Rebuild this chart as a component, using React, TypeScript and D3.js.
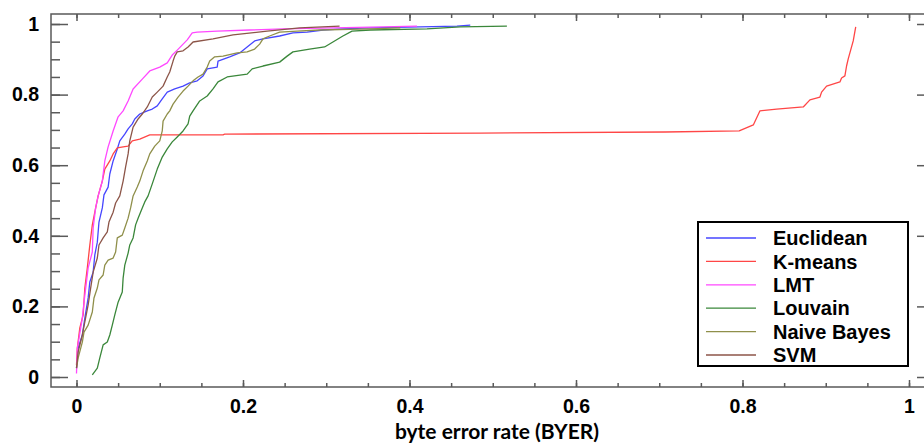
import React, { useEffect, useRef } from "react";
import * as d3 from "d3";

// CDF curves: [byte error rate, cumulative fraction]
const euclidean: [number, number][] = [
  [0, 0.025], [0.002, 0.082], [0.007, 0.119], [0.01, 0.167], [0.014, 0.224],
  [0.016, 0.269], [0.02, 0.297], [0.022, 0.346], [0.025, 0.382], [0.027, 0.439],
  [0.031, 0.479], [0.033, 0.516], [0.038, 0.538], [0.04, 0.575], [0.044, 0.612],
  [0.049, 0.646], [0.052, 0.669], [0.058, 0.688], [0.062, 0.703], [0.067, 0.717],
  [0.07, 0.731], [0.076, 0.745], [0.085, 0.754], [0.091, 0.759], [0.097, 0.768],
  [0.103, 0.788], [0.109, 0.807], [0.118, 0.816], [0.128, 0.824], [0.136, 0.833],
  [0.145, 0.839], [0.152, 0.853], [0.157, 0.873], [0.169, 0.878], [0.17, 0.895],
  [0.184, 0.907], [0.196, 0.918], [0.205, 0.935], [0.214, 0.952], [0.224, 0.958],
  [0.244, 0.966], [0.26, 0.975], [0.277, 0.977], [0.296, 0.983], [0.32, 0.986],
  [0.353, 0.989], [0.413, 0.992], [0.457, 0.994], [0.473, 0.997],
];

const kmeans: [number, number][] = [
  [0, 0.034], [0.001, 0.082], [0.004, 0.139], [0.008, 0.176], [0.01, 0.252],
  [0.013, 0.309], [0.016, 0.374], [0.019, 0.431], [0.022, 0.467], [0.026, 0.513],
  [0.031, 0.555], [0.034, 0.589], [0.04, 0.612], [0.044, 0.632], [0.049, 0.649],
  [0.056, 0.652], [0.062, 0.654], [0.067, 0.669], [0.076, 0.674], [0.088, 0.686],
  [0.176, 0.686], [0.178, 0.688], [0.485, 0.691], [0.707, 0.694], [0.796, 0.697],
  [0.813, 0.714], [0.821, 0.754], [0.841, 0.759], [0.873, 0.765], [0.881, 0.785],
  [0.893, 0.793], [0.895, 0.807], [0.901, 0.824], [0.917, 0.836], [0.919, 0.847],
  [0.923, 0.853], [0.925, 0.881], [0.927, 0.901], [0.933, 0.952], [0.936, 0.992],
];

const lmt: [number, number][] = [
  [0, 0.01], [0.001, 0.082], [0.007, 0.167], [0.01, 0.232], [0.014, 0.309],
  [0.019, 0.354], [0.02, 0.422], [0.023, 0.479], [0.026, 0.513], [0.031, 0.555],
  [0.034, 0.612], [0.038, 0.652], [0.044, 0.697], [0.05, 0.737], [0.056, 0.754],
  [0.062, 0.782], [0.068, 0.816], [0.079, 0.844], [0.088, 0.867], [0.1, 0.878],
  [0.109, 0.89], [0.115, 0.912], [0.121, 0.926], [0.133, 0.955], [0.139, 0.975],
  [0.145, 0.977], [0.169, 0.98], [0.208, 0.983], [0.248, 0.986], [0.308, 0.989],
  [0.368, 0.992], [0.409, 0.994],
];

const louvain: [number, number][] = [
  [0.019, 0.006], [0.025, 0.025], [0.028, 0.054], [0.032, 0.091], [0.037, 0.099],
  [0.04, 0.119], [0.043, 0.147], [0.046, 0.176], [0.05, 0.212], [0.055, 0.241],
  [0.056, 0.28], [0.058, 0.317], [0.062, 0.351], [0.064, 0.374], [0.068, 0.394],
  [0.071, 0.431], [0.074, 0.45], [0.079, 0.479], [0.082, 0.496], [0.086, 0.513],
  [0.091, 0.547], [0.097, 0.589], [0.103, 0.623], [0.109, 0.646], [0.115, 0.666],
  [0.121, 0.68], [0.128, 0.697], [0.134, 0.717], [0.136, 0.739], [0.14, 0.754],
  [0.148, 0.782], [0.157, 0.796], [0.164, 0.816], [0.17, 0.836], [0.181, 0.85],
  [0.205, 0.858], [0.211, 0.873], [0.224, 0.881], [0.244, 0.892], [0.253, 0.909],
  [0.26, 0.921], [0.28, 0.929], [0.298, 0.935], [0.308, 0.949], [0.32, 0.966],
  [0.331, 0.98], [0.353, 0.983], [0.421, 0.986], [0.461, 0.992], [0.517, 0.994],
];

const naiveBayes: [number, number][] = [
  [0, 0.025], [0.002, 0.054], [0.007, 0.099], [0.009, 0.127], [0.014, 0.147],
  [0.019, 0.184], [0.021, 0.224], [0.025, 0.252], [0.027, 0.275], [0.032, 0.289],
  [0.034, 0.317], [0.038, 0.331], [0.044, 0.337], [0.047, 0.354], [0.049, 0.394],
  [0.055, 0.402], [0.058, 0.422], [0.062, 0.45], [0.065, 0.479], [0.068, 0.513],
  [0.073, 0.538], [0.076, 0.555], [0.08, 0.584], [0.085, 0.612], [0.088, 0.632],
  [0.094, 0.654], [0.1, 0.669], [0.103, 0.697], [0.104, 0.725], [0.109, 0.745],
  [0.112, 0.754], [0.116, 0.773], [0.122, 0.793], [0.128, 0.81], [0.134, 0.824],
  [0.14, 0.839], [0.146, 0.85], [0.152, 0.858], [0.157, 0.878], [0.16, 0.895],
  [0.166, 0.907], [0.176, 0.909], [0.193, 0.918], [0.205, 0.921], [0.214, 0.929],
  [0.22, 0.943], [0.224, 0.958], [0.232, 0.966], [0.244, 0.977], [0.265, 0.98],
  [0.292, 0.983], [0.353, 0.986], [0.389, 0.989],
];

const svm: [number, number][] = [
  [0, 0.025], [0.002, 0.071], [0.007, 0.119], [0.01, 0.156], [0.014, 0.204],
  [0.017, 0.252], [0.02, 0.297], [0.025, 0.337], [0.027, 0.374], [0.032, 0.394],
  [0.037, 0.411], [0.039, 0.439], [0.044, 0.467], [0.047, 0.493], [0.052, 0.513],
  [0.056, 0.555], [0.059, 0.595], [0.062, 0.632], [0.064, 0.669], [0.068, 0.708],
  [0.074, 0.731], [0.079, 0.745], [0.085, 0.765], [0.091, 0.793], [0.097, 0.807],
  [0.104, 0.824], [0.109, 0.85], [0.112, 0.864], [0.116, 0.895], [0.118, 0.909],
  [0.121, 0.921], [0.128, 0.924], [0.134, 0.935], [0.14, 0.949], [0.164, 0.958],
  [0.188, 0.969], [0.229, 0.98], [0.268, 0.989], [0.316, 0.994],
];

const seriesNames = ["Euclidean", "K-means", "LMT", "Louvain", "Naive Bayes", "SVM"];
const seriesData = [euclidean, kmeans, lmt, louvain, naiveBayes, svm];
const seriesColors = ["#4646ff", "#ff4646", "#ff48ff", "#3a873a", "#8f8f4a", "#8c5548"];

const majorTicks = [0, 0.2, 0.4, 0.6, 0.8, 1];
const minorTicks = d3.range(0, 21).map((i) => i * 0.05);

export default function App() {
  const ref = useRef<SVGSVGElement>(null);

  useEffect(() => {
    const width = 924,
      height = 445;
    const left = 51,
      right = 934,
      top = 14,
      bottom = 387;
    const axisColor = "#5a5a5a";
    const labelFont = "'Liberation Sans', Arial, sans-serif";

    const svg = d3.select(ref.current);
    svg.selectAll("*").remove();
    svg.append("rect").attr("width", width).attr("height", height).attr("fill", "#fff");

    const x = d3.scaleLinear().domain([0, 1]).range([76.5, 909]);
    const y = d3.scaleLinear().domain([0, 1]).range([377, 24]);

    // frame
    svg
      .append("path")
      .attr("d", `M${left},${top}H${right}V${bottom}H${left}Z`)
      .attr("fill", "none")
      .attr("stroke", axisColor)
      .attr("stroke-width", 1.5);

    const styleAxis = (g: any) => {
      g.select(".domain").remove();
      g.selectAll("line").attr("stroke", axisColor).attr("stroke-width", 1.5);
      g.selectAll("text")
        .attr("fill", "#000")
        .attr("font-family", labelFont)
        .attr("font-weight", "bold")
        .attr("font-size", 19.5);
    };
    const fmt = (d: any) => d3.format("~g")(d);

    // minor ticks
    svg.append("g").attr("transform", `translate(0,${bottom})`)
      .call(d3.axisBottom(x).tickValues(minorTicks).tickSize(-4).tickFormat(() => ""))
      .call(styleAxis);
    svg.append("g").attr("transform", `translate(0,${top})`)
      .call(d3.axisTop(x).tickValues(minorTicks).tickSize(-4).tickFormat(() => ""))
      .call(styleAxis);
    svg.append("g").attr("transform", `translate(${left},0)`)
      .call(d3.axisLeft(y).tickValues(minorTicks).tickSize(-9).tickFormat(() => ""))
      .call(styleAxis);
    svg.append("g").attr("transform", `translate(${right},0)`)
      .call(d3.axisRight(y).tickValues(minorTicks).tickSize(-9).tickFormat(() => ""))
      .call(styleAxis);

    // major ticks
    svg.append("g").attr("transform", `translate(0,${bottom})`)
      .call(d3.axisBottom(x).tickValues(majorTicks).tickSize(-7).tickPadding(12).tickFormat(fmt))
      .call(styleAxis);
    svg.append("g").attr("transform", `translate(0,${top})`)
      .call(d3.axisTop(x).tickValues(majorTicks).tickSize(-7).tickFormat(() => ""))
      .call(styleAxis);
    svg.append("g").attr("transform", `translate(${left},0)`)
      .call(d3.axisLeft(y).tickValues(majorTicks).tickSize(-17).tickPadding(12).tickFormat(fmt))
      .call(styleAxis);
    svg.append("g").attr("transform", `translate(${right},0)`)
      .call(d3.axisRight(y).tickValues(majorTicks).tickSize(-17).tickFormat(() => ""))
      .call(styleAxis);

    // x axis title
    svg
      .append("text")
      .attr("x", 497)
      .attr("y", 439)
      .attr("text-anchor", "middle")
      .attr("font-family", "Lato, 'Open Sans', sans-serif")
      .attr("font-weight", "bold")
      .attr("font-size", 21)
      .attr("fill", "#000")
      .text("byte error rate (BYER)");

    // curves
    const line = d3
      .line<[number, number]>()
      .x((d) => x(d[0]))
      .y((d) => y(d[1]));

    seriesData.forEach((data, i) => {
      svg
        .append("path")
        .datum(data)
        .attr("fill", "none")
        .attr("stroke", seriesColors[i])
        .attr("stroke-width", 1.3)
        .attr("stroke-linejoin", "round")
        .attr("d", line);
    });

    // legend
    const legend = svg.append("g").attr("transform", "translate(698,222)");
    legend
      .append("rect")
      .attr("width", 210)
      .attr("height", 144)
      .attr("fill", "#fff")
      .attr("stroke", "#000")
      .attr("stroke-width", 2);
    seriesNames.forEach((name, i) => {
      const cy = 16 + i * 23.4;
      legend
        .append("line")
        .attr("x1", 8)
        .attr("x2", 58)
        .attr("y1", cy)
        .attr("y2", cy)
        .attr("stroke", seriesColors[i])
        .attr("stroke-width", 1.3);
      legend
        .append("text")
        .attr("x", 75)
        .attr("y", cy)
        .attr("dy", "0.36em")
        .attr("font-family", labelFont)
        .attr("font-weight", "bold")
        .attr("font-size", 20)
        .attr("fill", "#000")
        .text(name);
    });
  }, []);

  return (
    <svg
      ref={ref}
      width={924}
      height={445}
      style={{ position: "absolute", left: 0, top: 0, display: "block" }}
    />
  );
}
